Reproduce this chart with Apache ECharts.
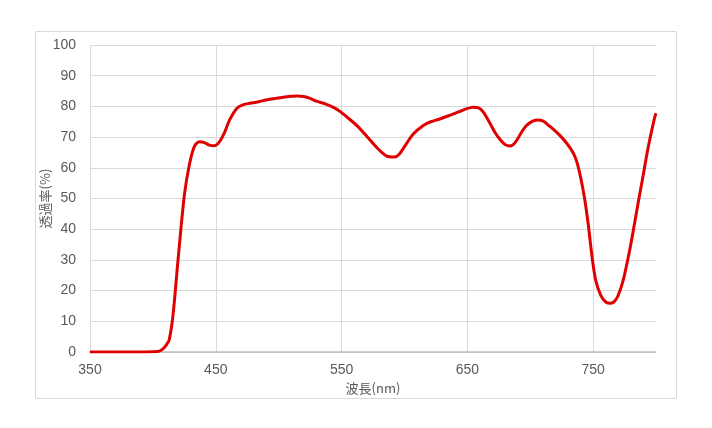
<!DOCTYPE html>
<html><head><meta charset="utf-8">
<script src="https://cdn.jsdelivr.net/npm/echarts@6/dist/echarts.min.js"></script>
<style>html,body{margin:0;padding:0;background:#fff}#c{width:712px;height:428px}</style>
</head><body><div id="c"></div>
<script>
var wavelengths = [350,370,390,400,405,408,411,413,416,420,425,429,433,437,441,445,449,453,457,461,467,472,477,484,490,497,504,510,515,520,525,530,537,544,549,555,562,570,578,586,592,596,601,607,615,621,628,636,643,649,655,659,663,668,672,676,680,684,688,693,697,702,706,710,714,718,723,729,734,737,740,743,746,749,752,756,760,764,767,770,774,779,783,786,790,793,796,799,800];
var transmittance = [0,0,0,0.1,0.3,1,2.5,4,12,30,51,61,67,68.5,68.2,67.4,67.2,68.5,71.5,75.6,79.5,80.6,81,81.5,82.1,82.6,83,83.3,83.4,83.2,82.6,81.7,80.8,79.6,78.3,76.3,73.8,70.3,66.6,63.8,63.5,64.5,67.5,71,73.8,75,75.9,77.1,78.2,79.2,79.7,79.5,78,74.5,71.5,69.2,67.6,67.1,68.2,71.5,73.8,75.2,75.6,75.3,74,72.7,70.8,68,65,62,57,50.6,42,31.5,23.5,18.5,16.3,15.9,16.5,18.5,23.5,33,42,49,58,65,71,76.5,77.8];
var yTicks = [0,10,20,30,40,50,60,70,80,90,100];

var chart = echarts.init(document.getElementById('c'), null, {renderer:'canvas'});
var data = wavelengths.map(function(w,i){return [w, transmittance[i]];});
var font = 'Liberation Sans, Arial, sans-serif';
chart.setOption({
  animation:false,
  backgroundColor:'#fff',
  graphic:[{type:'rect', shape:{x:35.5,y:31.5,width:641,height:367}, style:{fill:'none', stroke:'#d9d9d9', lineWidth:1}, silent:true, z:-1}],
  grid:{left:90, right:56, top:45, bottom:76},
  xAxis:{
    type:'value', min:350, max:800, interval:100,
    name:'波長(nm)', nameLocation:'middle', nameGap:29,
    nameTextStyle:{color:'#595959', fontSize:13, fontFamily:'Noto Sans CJK JP'},
    axisLine:{show:true, lineStyle:{color:'#bfbfbf', width:1.5}},
    axisTick:{show:false},
    axisLabel:{color:'#595959', fontSize:14, fontFamily:font, margin:11, showMaxLabel:false},
    splitLine:{show:true, showMaxLine:false, lineStyle:{color:'#d9d9d9', width:1}}
  },
  yAxis:{
    type:'value', min:yTicks[0], max:yTicks[yTicks.length-1], interval:10,
    name:'透過率(%)', nameLocation:'middle', nameGap:38, nameRotate:90, nameMoveOverlap:false,
    nameTextStyle:{color:'#595959', fontSize:13, fontFamily:'Noto Sans CJK JP'},
    axisLine:{show:false}, axisTick:{show:false},
    axisLabel:{color:'#595959', fontSize:14, fontFamily:font, margin:14},
    splitLine:{show:true, lineStyle:{color:'#d9d9d9', width:1}}
  },
  series:[{
    type:'line', data:data, smooth:0.3, showSymbol:false,
    lineStyle:{color:'#e10000', width:3}
  }]
});
</script></body></html>
